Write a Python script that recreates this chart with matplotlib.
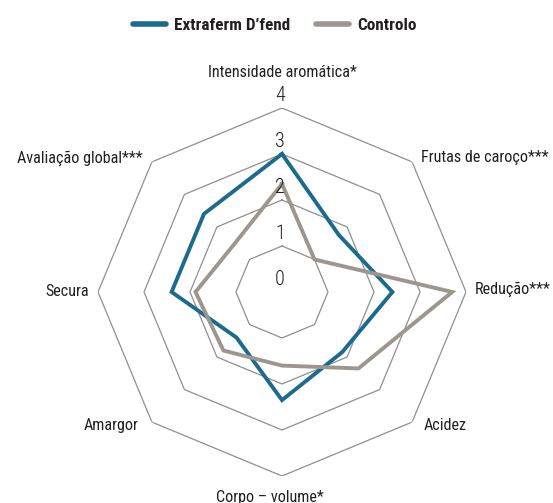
import matplotlib.pyplot as plt
import numpy as np
from matplotlib.lines import Line2D
from matplotlib import font_manager as fm

# Sensory attributes (clockwise from top) and panel scores
categories = ['Intensidade aromática*', 'Frutas de caroço***', 'Redução***', 'Acidez',
              'Corpo – volume*', 'Amargor', 'Secura', 'Avaliação global***']
extraferm = [3.0, 1.75, 2.4, 1.85, 2.35, 1.4, 2.4, 2.4]
controlo = [2.35, 1.0, 3.7, 2.35, 1.6, 1.8, 1.88, 1.47]
series_names = ['Extraferm D’fend', 'Controlo']
ring_levels = [0, 1, 2, 3, 4]

# pick a narrow face if one is installed
names = {f.name for f in fm.fontManager.ttflist}
family = 'DejaVu Sans'
for cand in ['Liberation Sans Narrow', 'Roboto Condensed', 'Open Sans Condensed']:
    if cand in names:
        family = cand
        break
plt.rcParams['font.family'] = [family, 'DejaVu Sans']
if family == 'DejaVu Sans':
    plt.rcParams['font.stretch'] = 'condensed'

text_color = '#231f20'
blue = '#1b6b8c'
grey = '#9d968f'
grid_color = '#8f8f8f'

fig = plt.figure(figsize=(5.53, 5.03), dpi=100)
renderer = fig.canvas.get_renderer()


def fit_size(s, target_px, **kw):
    t = fig.text(0, 0, s, fontsize=10, **kw)
    w = t.get_window_extent(renderer).width
    t.remove()
    return 10 * target_px / w


# label size: as large as the reference widths allow, without running off the right edge
fs = min(fit_size('Avaliação global***', 131),
         fit_size('Frutas de caroço***', 129),
         fit_size('Redução***', 76))
fs_leg = fit_size('Extraferm D’fend', 115, weight='bold')

ax = fig.add_axes([0.1772, 0.0537, 0.6655, 0.7316], projection='polar')
ax.set_theta_zero_location('N')
ax.set_theta_direction(-1)
ax.set_ylim(0, 4)
ax.grid(False)
ax.set_xticks([])
ax.set_yticks([])
ax.spines['polar'].set_visible(False)

n = len(categories)
angles = np.linspace(0, 2 * np.pi, n, endpoint=False)
closed = np.append(angles, angles[0])

# octagonal grid
for lvl in ring_levels[1:]:
    ax.plot(closed, [lvl] * (n + 1), color=grid_color, lw=0.9, zorder=1)

# series
for vals, col in [(extraferm, blue), (controlo, grey)]:
    ax.plot(closed, vals + vals[:1], color=col, lw=2.8, zorder=3,
            solid_joinstyle='miter')

# ring value labels along the top axis
for lvl in ring_levels:
    ax.annotate(str(lvl), xy=(0, lvl), xytext=(-2, 12), textcoords='offset pixels',
                ha='center', va='center', fontsize=fs * 1.25, weight='light',
                color=text_color, annotation_clip=False, zorder=4)

# category labels, offsets from the outer vertex (pixels)
offsets = [(0, 31, 'center'), (9, 0, 'left'), (9, -2, 'left'), (12, -8, 'left'),
           (-12, -26, 'center'), (-13, -8, 'right'), (-9, -4, 'right'), (-9, -1, 'right')]
for ang, lab, (dx, dy, ha) in zip(angles, categories, offsets):
    ax.annotate(lab, xy=(ang, 4), xytext=(dx, dy), textcoords='offset pixels',
                ha=ha, va='baseline', fontsize=fs, color=text_color,
                annotation_clip=False)

handles = [Line2D([], [], color=blue, lw=4, solid_capstyle='round'),
           Line2D([], [], color=grey, lw=4, solid_capstyle='round')]
leg = fig.legend(handles, series_names, loc='center', ncol=2,
                 bbox_to_anchor=(274.5 / 553, 1 - 25 / 503), frameon=False,
                 prop={'weight': 'bold', 'size': fs_leg},
                 handlelength=33 / (fs_leg * 100 / 72),
                 handletextpad=8 / (fs_leg * 100 / 72),
                 columnspacing=26 / (fs_leg * 100 / 72))
for t in leg.get_texts():
    t.set_color(text_color)

fig.savefig('out.png', dpi=100)
